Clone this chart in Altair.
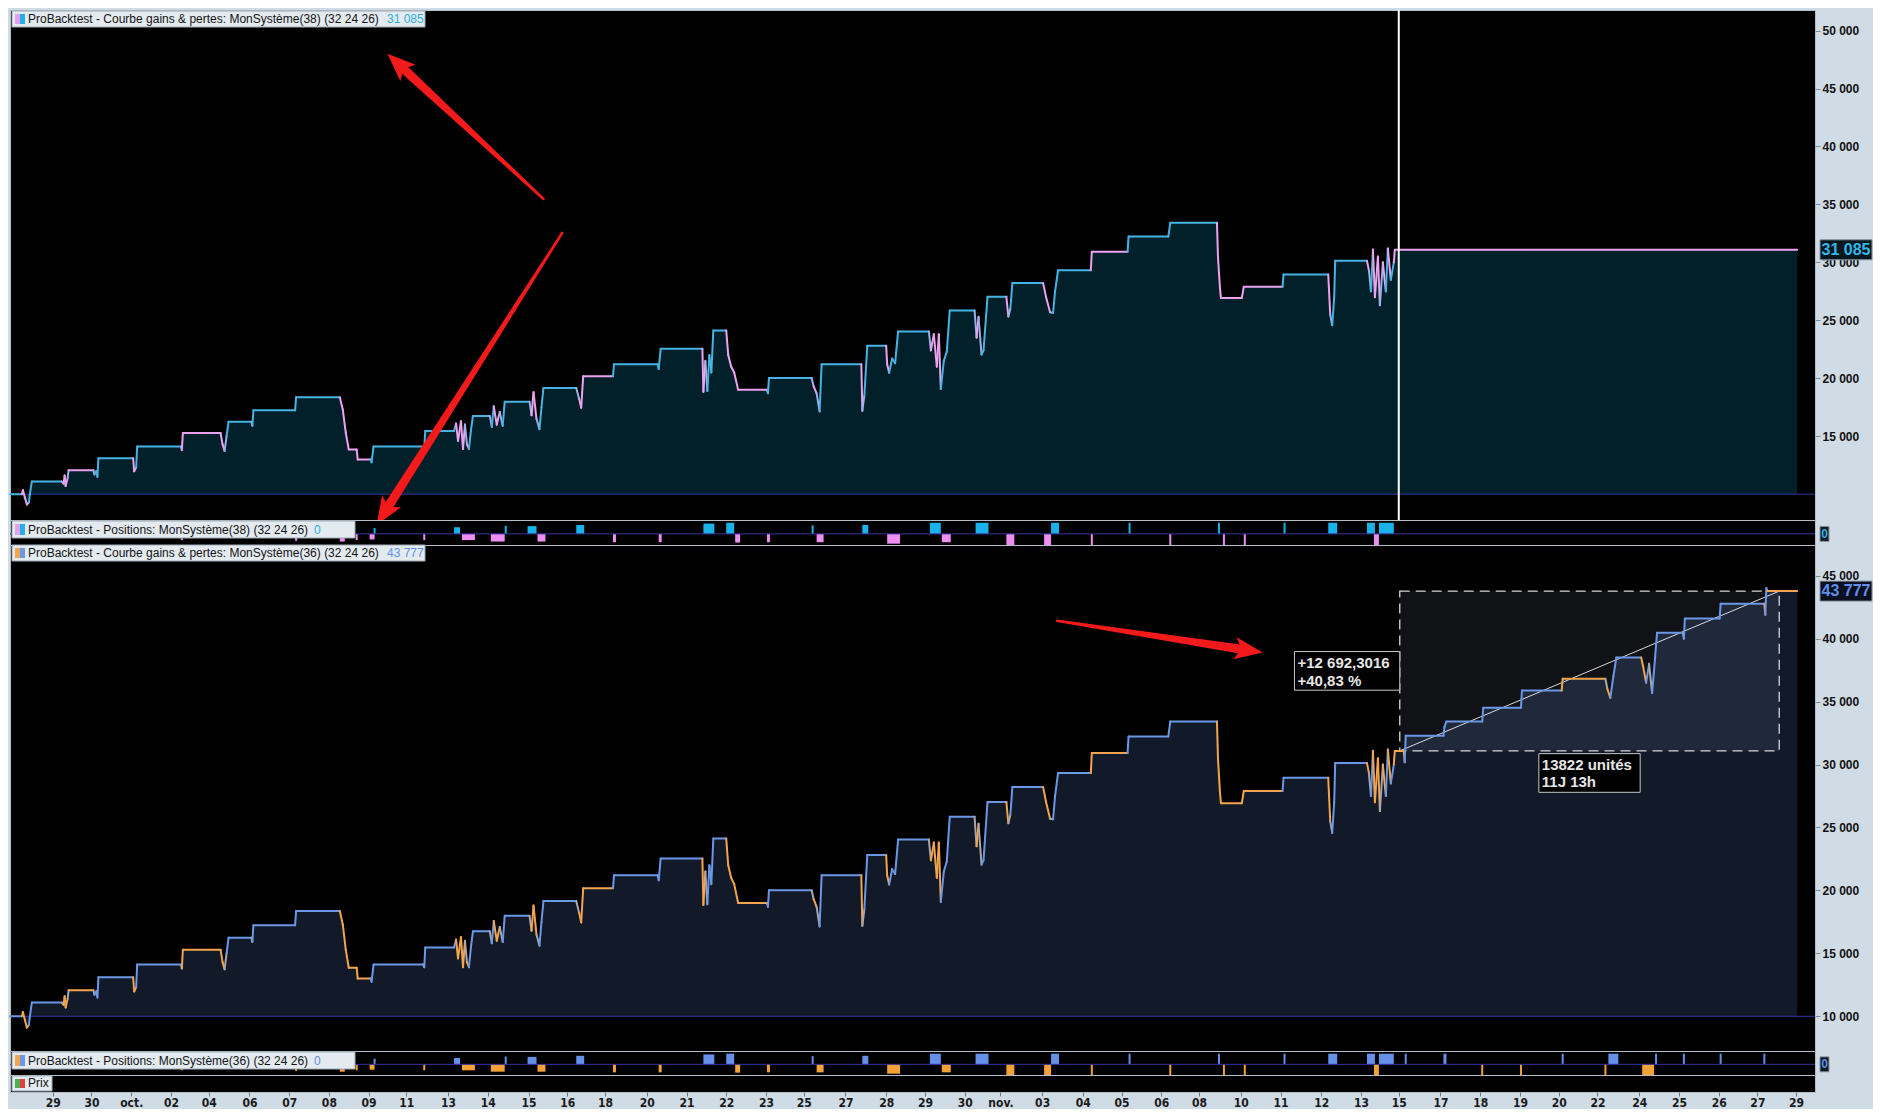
import json
import math
import altair as alt
import pandas as pd

# ---------------- values ----------------
# x = position along the shared bar/time axis, y = equity value
TICK_POS = [46, 85, 125, 165, 203, 244, 284, 324, 364, 402, 444, 484, 525, 564, 602, 644,
            684, 724, 764, 802, 844, 885, 924, 964, 1000, 1042, 1083, 1122, 1162, 1200, 1242,
            1282, 1323, 1363, 1401, 1443, 1483, 1523, 1562, 1601, 1643, 1683, 1723, 1762, 1801]
TICK_LABELS = ["29", "30", "oct.", "02", "04", "06", "07", "08", "09", "11", "13", "14", "15", "16",
               "18", "20", "21", "22", "23", "25", "27", "28", "29", "30", "nov.", "03", "04", "05",
               "06", "08", "10", "11", "12", "13", "15", "17", "18", "19", "20", "22", "24", "25",
               "26", "27", "29"]

EQ_X = [3, 15, 16, 18, 20, 22, 23, 25, 55, 57,
        58, 59, 61, 62, 87, 88, 90, 91, 92, 127,
        128, 130, 131, 175, 176, 177, 215, 217, 219, 221,
        223, 246, 247, 248, 290, 291, 335, 338, 341, 344,
        352, 353, 366, 367, 369, 419, 420, 421, 450, 452,
        454, 457, 459, 461, 463, 465, 467, 469, 486, 488,
        490, 493, 496, 499, 501, 526, 528, 530, 533, 536,
        538, 540, 573, 576, 578, 580, 610, 611, 655, 656,
        658, 700, 701, 703, 705, 707, 709, 711, 724, 726,
        729, 732, 736, 765, 766, 767, 810, 812, 815, 818,
        820, 860, 861, 863, 866, 885, 886, 888, 891, 894,
        897, 928, 930, 933, 936, 938, 940, 943, 946, 949,
        974, 976, 978, 981, 983, 987, 1006, 1008, 1010, 1012,
        1043, 1046, 1050, 1053, 1055, 1058, 1091, 1092, 1128, 1129,
        1169, 1171, 1218, 1219, 1221, 1222, 1243, 1245, 1284, 1285,
        1330, 1332, 1334, 1336, 1337, 1369, 1371, 1373, 1375, 1377,
        1380, 1382, 1385, 1388, 1390, 1393, 1396, 1397, 1406, 1407,
        1408, 1446, 1447, 1449, 1485, 1486, 1524, 1525, 1565, 1566,
        1609, 1611, 1614, 1617, 1620, 1645, 1647, 1650, 1653, 1656,
        1658, 1661, 1687, 1688, 1689, 1724, 1725, 1769, 1770, 1771,
        1772, 1802]
EQ_V = [10000, 10000, 10350, 9700, 9100, 9300, 10000, 11100, 11100, 10900,
        11600, 10700, 11400, 12070, 12070, 11700, 12000, 11500, 13100, 13100,
        11970, 12300, 14120, 14120, 13800, 15280, 15280, 14300, 13730, 15000,
        16250, 16250, 15900, 17240, 17240, 18370, 18370, 17300, 15300, 13860,
        13860, 13000, 13000, 12750, 14120, 14120, 13900, 15460, 15460, 16100,
        14600, 16300, 13900, 16000, 14300, 13900, 15500, 16750, 16750, 15800,
        17580, 16000, 17100, 15900, 17980, 17980, 16800, 18800, 16500, 15610,
        17500, 19160, 19160, 18200, 17460, 20180, 20180, 21200, 21200, 20800,
        22540, 22540, 18840, 21500, 18900, 22000, 20500, 24120, 24120, 22000,
        21000, 20500, 19000, 19000, 18700, 20020, 20020, 19300, 18700, 17140,
        21200, 21200, 17190, 18500, 22810, 22810, 21200, 20470, 21700, 21300,
        24040, 24040, 22400, 23800, 21000, 23800, 19080, 21500, 22300, 25850,
        25850, 23500, 25300, 22050, 22400, 27030, 27030, 25330, 26000, 28210,
        28210, 27000, 25700, 25650, 27500, 29320, 29320, 30920, 30920, 32230,
        32230, 33410, 33410, 30500, 27800, 26930, 26930, 27900, 27900, 28950,
        28950, 25500, 24570, 27000, 30130, 30130, 29300, 27500, 31100, 27000,
        30500, 26300, 30000, 27500, 31200, 28500, 30000, 31085, 31085, 30180,
        32280, 32280, 33000, 33410, 33410, 34510, 34510, 35880, 35880, 36820,
        36820, 36000, 35300, 37000, 38500, 38500, 37800, 36500, 38000, 35690,
        37500, 40470, 40470, 40000, 41600, 41600, 42780, 42780, 41890, 44020,
        43777, 43777]
EQ_SIDE = ["B", "B", "O", "O", "O", "O", "B", "B", "B", "G",
           "O", "O", "O", "G", "O", "G", "B", "B", "B", "B",
           "O", "O", "B", "B", "B", "O", "O", "O", "O", "G",
           "B", "B", "G", "B", "B", "B", "B", "O", "O", "O",
           "O", "O", "O", "B", "B", "B", "G", "B", "B", "B",
           "O", "O", "O", "O", "G", "O", "B", "B", "B", "G",
           "B", "O", "O", "G", "B", "B", "G", "O", "O", "G",
           "B", "B", "B", "G", "O", "O", "O", "B", "B", "B",
           "B", "B", "O", "O", "G", "B", "B", "B", "B", "O",
           "O", "O", "O", "O", "G", "B", "B", "G", "O", "G",
           "B", "B", "O", "G", "B", "B", "O", "O", "B", "B",
           "B", "B", "G", "O", "O", "O", "O", "B", "B", "B",
           "B", "G", "O", "G", "B", "B", "B", "O", "G", "B",
           "B", "O", "O", "G", "B", "B", "B", "O", "O", "B",
           "B", "B", "B", "O", "O", "O", "O", "O", "O", "B",
           "B", "O", "G", "B", "B", "B", "O", "G", "B", "O",
           "O", "O", "G", "O", "B", "O", "B", "O", "O", "O",
           "B", "B", "B", "B", "B", "B", "B", "B", "B", "O",
           "O", "G", "O", "B", "B", "B", "O", "O", "B", "G",
           "B", "B", "B", "G", "B", "B", "B", "B", "O", "B",
           "B", "O"]
# system (38) follows the same path until the cursor, then stays flat
TOP_SHARED = 168
TOP_TAIL_X = [1802]
TOP_TAIL_V = [31085]
TOP_FINAL = "31 085"
BOT_FINAL = "43 777"
TOP_TICKS = [15000, 20000, 25000, 30000, 35000, 40000, 45000, 50000]
BOT_TICKS = [10000, 15000, 20000, 25000, 30000, 35000, 40000, 45000]

LONG_X0 = [369, 450, 501, 524, 573, 701, 724, 810, 861, 929, 975, 1051, 1129, 1219, 1285, 1330,
           1369, 1381, 1407, 1446, 1565, 1612, 1659, 1687, 1724, 1768]
LONG_X1 = [371, 456, 503, 533, 581, 712, 732, 812, 867, 940, 988, 1059, 1131, 1221, 1287, 1339,
           1377, 1396, 1409, 1449, 1567, 1622, 1661, 1689, 1726, 1770]
LONG_H = [0.53, 0.6, 0.73, 0.7, 0.8, 0.93, 1.0, 0.77, 0.8, 1.0, 1.0, 1.0, 1.0, 1.0, 1.0, 1.0,
          1.0, 1.0, 1.0, 1.0, 1.0, 1.0, 1.0, 1.0, 1.0, 1.0]
SHORT_X0 = [175, 290, 335, 351, 365, 419, 458, 487, 534, 610, 656, 733, 765, 815, 886, 941,
            1006, 1044, 1091, 1170, 1224, 1245, 1376, 1484, 1523, 1608, 1646]
SHORT_X1 = [177, 292, 340, 353, 370, 421, 471, 501, 542, 613, 659, 738, 768, 822, 899, 950,
            1014, 1051, 1093, 1172, 1226, 1247, 1381, 1486, 1525, 1610, 1658]
SHORT_H = [0.56, 0.62, 0.69, 0.56, 0.5, 0.56, 0.56, 0.69, 0.69, 0.75, 0.75, 0.78, 0.75, 0.75,
           0.88, 0.75, 1.0, 1.0, 1.0, 1.0, 1.0, 1.0, 1.0, 1.0, 1.0, 1.0, 1.0]

CURSOR_X = 1401
MEAS_X = [1402, 1784]
MEAS_V = [31085, 43777]
GAIN_LINES = ["+12 692,3016", "+40,83 %"]
GAIN_BOX_X = [1296, 1402]
GAIN_BOX_V = [35905, 38977]
GAIN_TEXT_V = [37662, 36276]
DUR_LINES = ["13822 unités", "11J 13h"]
DUR_BOX_X = [1542, 1644]
DUR_BOX_V = [27795, 30866]
DUR_TEXT_V = [29606, 28189]

# arrows: tail x, tail value, tip x, tip value
ARROWS_TOP = [(540, 35470, 383, 47990), (559, 32555, 372, 7341)]
ARROWS_BOT = [(1057, 41420, 1264, 38900)]

# ---------------- layout / style ----------------
W = 1805
H_TOP, H_POS1, H_BOT, H_POS2, H_PRIX = 510, 25, 506, 24, 17
X_DOMAIN = [3, 1820]
TOP_DOMAIN = [7770, 51775]
BOT_DOMAIN = [7244, 47440]
POS_DOMAIN = [-1.0, 1.25]
BASE = 10000
FONT = "Liberation Sans"
NARROW = "Liberation Sans Narrow, DejaVu Sans Condensed, Liberation Sans"
TOP_PAL = {"B": "#47b3e3", "O": "#eba3ef", "G": "#9cb0ea"}
BOT_PAL = {"B": "#6b98e6", "O": "#f2a54e", "G": "#a9a6ad"}
ARROW_RED = "#f21a1a"
HEAD_PATH = "M0,-1L0.8,1L0,0.55L-0.8,1Z"
HEAD_SIDE = 28
ONE = pd.DataFrame({"a": [0]})


def xq(field, axis=None):
    return alt.X(f"{field}:Q", scale=alt.Scale(domain=X_DOMAIN, nice=False, zero=False), axis=axis)


def yq(field, domain, axis):
    return alt.Y(f"{field}:Q", scale=alt.Scale(domain=domain, nice=False, zero=False), axis=axis)


def y_axis(values):
    return alt.Axis(orient="right", values=values,
                    labelExpr="replace(format(datum.value, ','), ',', ' ')",
                    tickSize=5, tickColor="#7d8a97", tickWidth=1, labelColor="#111111",
                    labelFont=FONT, labelFontSize=12, labelFontWeight="bold", labelPadding=2,
                    domain=False, grid=False, title=None)


def segments(xs, vs, sides, pal):
    rows = []
    for i in range(1, len(xs)):
        rows.append({"x0": xs[i - 1], "x1": xs[i], "v0": vs[i - 1], "v1": vs[i],
                     "col": pal[sides[i]]})
    return pd.DataFrame(rows)


def title_box(x1, y0, y1, icons, text, value, value_x, value_col):
    rect = alt.Chart(ONE).mark_rect(fill="#e3eaf0", stroke="#9eaab6", strokeWidth=1).encode(
        x=alt.value(2), x2=alt.value(x1), y=alt.value(y0), y2=alt.value(y1))
    ic1 = alt.Chart(ONE).mark_rect(fill=icons[0]).encode(
        x=alt.value(5), x2=alt.value(10), y=alt.value(y0 + 3), y2=alt.value(y1 - 3))
    ic2 = alt.Chart(ONE).mark_rect(fill=icons[1]).encode(
        x=alt.value(10), x2=alt.value(15), y=alt.value(y0 + 3), y2=alt.value(y1 - 3))
    t = alt.Chart(ONE).mark_text(align="left", baseline="alphabetic", font=FONT, fontSize=12,
                                 color="#141414").encode(
        x=alt.value(18), y=alt.value(y1 - 4), text=alt.value(text))
    layers = [rect, ic1, ic2, t]
    if value:
        v = alt.Chart(ONE).mark_text(align="left", baseline="alphabetic", font=FONT, fontSize=12,
                                     color=value_col).encode(
            x=alt.value(value_x), y=alt.value(y1 - 4), text=alt.value(value))
        layers.append(v)
    return layers


def value_box(val, half, domain, ax, text, col, fill, x_right, size):
    df = pd.DataFrame({"lo": [val - half], "hi": [val + half], "v": [val]})
    r = alt.Chart(df).mark_rect(fill=fill, stroke="#8a98a6", strokeWidth=1).encode(
        x=alt.value(W + 5), x2=alt.value(W + x_right), y=yq("lo", domain, ax), y2="hi:Q")
    t = alt.Chart(df).mark_text(align="center", baseline="middle", font=FONT, fontSize=size,
                                fontWeight="bold", color=col).encode(
        x=alt.value(W + 5 + (x_right - 5) / 2), y=yq("v", domain, ax), text=alt.value(text))
    return [r, t]


def arrows(lst, domain, H, ax):
    sx = W / (X_DOMAIN[1] - X_DOMAIN[0])
    sy = H / (domain[1] - domain[0])
    rows, heads = [], []
    for i, (xa, va, xb, vb) in enumerate(lst):
        dxp = (xb - xa) * sx
        dyp = (vb - va) * sy
        L = math.hypot(dxp, dyp)
        fc = 1 - (HEAD_SIDE / 2) / L
        for k, (p, s) in enumerate([(0.0, 2.5), (fc, 9.5)]):
            rows.append({"id": i, "k": k, "x": xa + (xb - xa) * p, "v": va + (vb - va) * p, "s": s})
        ang = math.degrees(math.atan2(dxp, dyp)) % 360
        heads.append({"x": xa + (xb - xa) * fc, "v": va + (vb - va) * fc, "ang": ang})
    shaft = alt.Chart(pd.DataFrame(rows)).mark_trail(color=ARROW_RED).encode(
        x=xq("x"), y=yq("v", domain, ax), size=alt.Size("s:Q", scale=None),
        order=alt.Order("k:Q"), detail="id:N")
    head = alt.Chart(pd.DataFrame(heads)).mark_point(
        shape=HEAD_PATH, filled=True, color=ARROW_RED, opacity=1, size=HEAD_SIDE ** 2,
        strokeWidth=0).encode(
        x=xq("x"), y=yq("v", domain, ax), angle=alt.Angle("ang:Q", scale=None))
    return [shaft, head]


def equity_layers(xs, vs, sides, pal, fill, domain, ax):
    df = pd.DataFrame({"x": xs, "v": vs, "b": [BASE] * len(xs)})
    area = alt.Chart(df).mark_area(color=fill, interpolate="linear").encode(
        x=xq("x"), y=yq("v", domain, ax), y2="b:Q")
    base = alt.Chart(pd.DataFrame({"b": [BASE]})).mark_rule(color="#3434a2", strokeWidth=1).encode(
        y=yq("b", domain, ax))
    seg = alt.Chart(segments(xs, vs, sides, pal)).mark_rule(strokeWidth=2, strokeCap="round").encode(
        x=xq("x0"), x2="x1:Q", y=yq("v0", domain, ax), y2="v1:Q",
        color=alt.Color("col:N", scale=None))
    return area, base, seg


# ---------------- top panel : system 38 ----------------
AX_TOP = y_axis(TOP_TICKS)
top_x = EQ_X[:TOP_SHARED] + TOP_TAIL_X
top_v = EQ_V[:TOP_SHARED] + TOP_TAIL_V
top_s = EQ_SIDE[:TOP_SHARED] + ["O"]
a1, b1, s1 = equity_layers(top_x, top_v, top_s, TOP_PAL, "#022029", TOP_DOMAIN, AX_TOP)
cursor = alt.Chart(pd.DataFrame({"x": [CURSOR_X]})).mark_rule(color="white", strokeWidth=2).encode(
    x=xq("x"))
half_top = 10 * (TOP_DOMAIN[1] - TOP_DOMAIN[0]) / H_TOP
top = alt.layer(
    a1, b1, s1, cursor, *arrows(ARROWS_TOP, TOP_DOMAIN, H_TOP, AX_TOP),
    *title_box(415, 1, 17, ["#e6a0ec", "#22b0e8"],
               "ProBacktest - Courbe gains & pertes: MonSystème(38) (32 24 26)", TOP_FINAL, 377, "#2eb0e2"),
    *value_box(31085, half_top, TOP_DOMAIN, AX_TOP, TOP_FINAL, "#33b6ea", "#08161e", 57, 16),
).properties(width=W, height=H_TOP)


def positions_panel(limit, long_col, short_col, H, icons, label, zero_col):
    rows = []
    for x0, x1, h in zip(LONG_X0, LONG_X1, LONG_H):
        if x0 < limit:
            rows.append({"x0": x0, "x1": x1, "z": 0, "h": h, "col": long_col})
    for x0, x1, h in zip(SHORT_X0, SHORT_X1, SHORT_H):
        if x0 < limit:
            rows.append({"x0": x0, "x1": x1, "z": 0, "h": -h, "col": short_col})
    df = pd.DataFrame(rows)
    bars = alt.Chart(df).mark_rect().encode(
        x=xq("x0"), x2="x1:Q", y=yq("z", POS_DOMAIN, None), y2="h:Q",
        color=alt.Color("col:N", scale=None))
    zero = alt.Chart(pd.DataFrame({"z": [0]})).mark_rule(color="#3434a2", strokeWidth=1).encode(
        y=yq("z", POS_DOMAIN, None))
    half = 7.5 * (POS_DOMAIN[1] - POS_DOMAIN[0]) / H
    return alt.layer(
        bars, zero,
        *title_box(345, 1, 18, icons, label, "0", 304, zero_col),
        *value_box(0, half, POS_DOMAIN, None, "0", zero_col, "#0c1a24", 14, 12),
    ).properties(width=W, height=H)


pos1 = positions_panel(CURSOR_X, "#1ab2ea", "#ee8ef0", H_POS1, ["#e6a0ec", "#22b0e8"],
                       "ProBacktest - Positions: MonSystème(38) (32 24 26)", "#2eb0e2")

# ---------------- bottom panel : system 36 ----------------
AX_BOT = y_axis(BOT_TICKS)
a2, b2, s2 = equity_layers(EQ_X, EQ_V, EQ_SIDE, BOT_PAL, "#121a2a", BOT_DOMAIN, AX_BOT)
meas_df = pd.DataFrame({"x0": [MEAS_X[0]], "x1": [MEAS_X[1]], "v0": [MEAS_V[0]], "v1": [MEAS_V[1]]})
meas_rect = alt.Chart(meas_df).mark_rect(fill="#8fa0c4", fillOpacity=0.11, stroke="#d6d6d6",
                                         strokeWidth=1.3, strokeDash=[10, 6]).encode(
    x=xq("x0"), x2="x1:Q", y=yq("v0", BOT_DOMAIN, AX_BOT), y2="v1:Q")
meas_diag = alt.Chart(meas_df).mark_rule(color="#f0f0f0", strokeWidth=1, opacity=0.9).encode(
    x=xq("x0"), x2="x1:Q", y=yq("v0", BOT_DOMAIN, AX_BOT), y2="v1:Q")


def label_box(bx, bv, lines, tv):
    bdf = pd.DataFrame({"x0": [bx[0]], "x1": [bx[1]], "v0": [bv[0]], "v1": [bv[1]]})
    r = alt.Chart(bdf).mark_rect(fill="black", stroke="#c8c8c8", strokeWidth=1).encode(
        x=xq("x0"), x2="x1:Q", y=yq("v0", BOT_DOMAIN, AX_BOT), y2="v1:Q")
    tdf = pd.DataFrame({"x": [bx[0] + 3] * len(lines), "v": tv, "txt": lines})
    t = alt.Chart(tdf).mark_text(align="left", baseline="alphabetic", font=FONT, fontSize=15,
                                 fontWeight="bold", color="#e6e6e6").encode(
        x=xq("x"), y=yq("v", BOT_DOMAIN, AX_BOT), text="txt:N")
    return [r, t]


half_bot = 10 * (BOT_DOMAIN[1] - BOT_DOMAIN[0]) / H_BOT
bot = alt.layer(
    a2, b2, meas_rect, meas_diag, s2,
    *label_box(GAIN_BOX_X, GAIN_BOX_V, GAIN_LINES, GAIN_TEXT_V),
    *label_box(DUR_BOX_X, DUR_BOX_V, DUR_LINES, DUR_TEXT_V),
    *arrows(ARROWS_BOT, BOT_DOMAIN, H_BOT, AX_BOT),
    *title_box(415, 0, 16, ["#f2a54e", "#6b98e6"],
               "ProBacktest - Courbe gains & pertes: MonSystème(36) (32 24 26)", BOT_FINAL, 377, "#5f8fe8"),
    *value_box(43777, half_bot, BOT_DOMAIN, AX_BOT, BOT_FINAL, "#5f8fe8", "#0a1020", 57, 16),
).properties(width=W, height=H_BOT)

pos2 = positions_panel(99999, "#6690e8", "#f4a238", H_POS2, ["#f2a54e", "#6b98e6"],
                       "ProBacktest - Positions: MonSystème(36) (32 24 26)", "#5f8fe8")

# ---------------- price strip with the time axis ----------------
label_expr = f"{json.dumps(TICK_LABELS)}[indexof({json.dumps(TICK_POS)}, datum.value)]"
x_axis = alt.Axis(values=TICK_POS, labelExpr=label_expr, tickSize=4, tickColor="#6a7886",
                  tickWidth=1, labelColor="#1a1a1a", labelFont=NARROW, labelFontSize=12,
                  labelFontWeight="bold", labelPadding=1, domain=False, grid=False, title=None,
                  labelOverlap=False, labelFlush=False, labelBound=False)
ticks = alt.Chart(pd.DataFrame({"t": TICK_POS})).mark_point(opacity=0).encode(x=xq("t", x_axis))
prix = alt.layer(
    ticks,
    *title_box(42, 1, 16, ["#4caf50", "#e04040"], "Prix", "", 0, "#000"),
).properties(width=W, height=H_PRIX)

chart = alt.vconcat(top, pos1, bot, pos2, prix, spacing=0, bounds="flush").properties(
    padding=0, background="#cfdbe5"
).configure_view(
    fill="black", stroke="#b4bec8", strokeWidth=1
)

chart.save("out.html", embed_options={"renderer": "svg", "actions": False})
